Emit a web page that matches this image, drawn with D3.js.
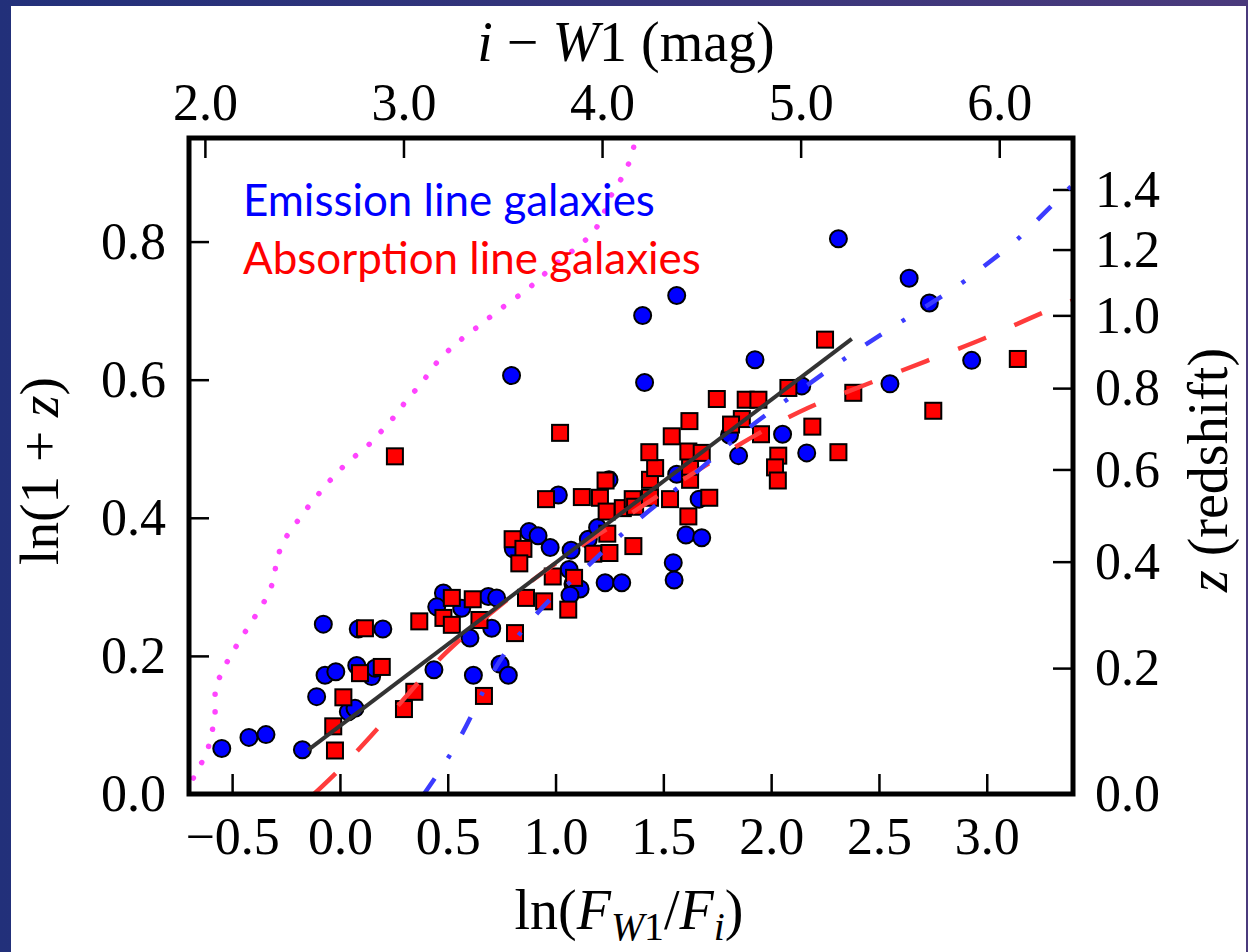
<!DOCTYPE html>
<html>
<head>
<meta charset="utf-8">
<script src="https://cdn.jsdelivr.net/npm/d3@7"></script>
<style>
  body { margin: 0; background: #3b3272; }
  svg { display: block; }
  .tick text { font-family: "Liberation Serif", serif; font-size: 52px; fill: #000; }
  .tick line { stroke: #000; stroke-width: 2.5; }
</style>
</head>
<body>
<div id="chart"></div>
<script>
// Tick values
var xTicks = [-0.5, 0.0, 0.5, 1.0, 1.5, 2.0, 2.5, 3.0];
var yTicks = [0.0, 0.2, 0.4, 0.6, 0.8];
var zTicks = [0.0, 0.2, 0.4, 0.6, 0.8, 1.0, 1.2, 1.4];
var magTicks = [2.0, 3.0, 4.0, 5.0, 6.0];
var magZero = 2.68; // i - W1 where ln(F_W1/F_i) = 0

// Emission line galaxies (blue circles): [ln(F_W1/F_i), ln(1+z)]
var emission = [
  [-0.548, 0.066], [-0.422, 0.082], [-0.343, 0.086], [-0.174, 0.064], [-0.077, 0.246],
  [-0.108, 0.141], [-0.069, 0.172], [-0.019, 0.177], [0.039, 0.119], [0.070, 0.124],
  [0.078, 0.186], [0.085, 0.239], [0.147, 0.170], [0.163, 0.182], [0.199, 0.239],
  [0.436, 0.180], [0.480, 0.291], [0.449, 0.271], [0.565, 0.269], [0.603, 0.226],
  [0.619, 0.172], [0.688, 0.286], [0.727, 0.284], [0.704, 0.240], [0.743, 0.188],
  [0.781, 0.172], [1.013, 0.433], [0.877, 0.380], [0.919, 0.374], [0.975, 0.357],
  [0.804, 0.355], [1.072, 0.353], [1.152, 0.369], [1.195, 0.386], [1.063, 0.325],
  [1.081, 0.304], [1.114, 0.297], [1.067, 0.288], [1.230, 0.306], [1.307, 0.306],
  [1.546, 0.335], [1.550, 0.310], [1.605, 0.375], [1.678, 0.371], [1.666, 0.427],
  [1.248, 0.455], [1.562, 0.463], [0.796, 0.606], [1.404, 0.693], [1.562, 0.722],
  [1.413, 0.596], [1.925, 0.629], [2.142, 0.591], [1.807, 0.520], [2.053, 0.521],
  [1.849, 0.490], [2.165, 0.494], [2.312, 0.804], [2.640, 0.747], [2.734, 0.711],
  [2.930, 0.628], [2.551, 0.594]
];

// Absorption line galaxies (red squares)
var absorption = [
  [-0.031, 0.098], [-0.023, 0.063], [0.016, 0.140], [0.093, 0.175], [0.116, 0.240],
  [0.194, 0.184], [0.297, 0.123], [0.345, 0.148], [0.368, 0.250], [0.480, 0.255],
  [0.519, 0.284], [0.519, 0.245], [0.616, 0.282], [0.647, 0.252], [0.668, 0.142],
  [0.812, 0.233], [0.801, 0.369], [0.851, 0.355], [0.832, 0.334], [0.863, 0.284],
  [0.947, 0.279], [1.059, 0.267], [0.987, 0.315], [1.086, 0.313], [1.175, 0.348],
  [1.250, 0.349], [1.240, 0.377], [1.361, 0.359], [0.956, 0.427], [1.122, 0.430],
  [1.206, 0.429], [1.232, 0.454], [1.237, 0.409], [1.312, 0.414], [1.358, 0.427],
  [1.369, 0.416], [1.438, 0.429], [1.531, 0.427], [1.713, 0.429], [1.616, 0.402],
  [1.438, 0.455], [1.462, 0.472], [1.624, 0.455], [1.624, 0.474], [1.435, 0.495],
  [1.616, 0.496], [1.678, 0.494], [1.539, 0.518], [1.021, 0.523], [1.621, 0.540],
  [1.748, 0.572], [1.882, 0.571], [1.941, 0.571], [1.864, 0.543], [1.814, 0.535],
  [1.953, 0.521], [2.080, 0.588], [2.250, 0.658], [2.381, 0.581], [2.191, 0.532],
  [2.312, 0.495], [2.033, 0.490], [2.018, 0.473], [2.031, 0.454], [3.144, 0.630],
  [2.752, 0.555], [0.255, 0.489]
];

// Best fit line (black)
var fitLine = [[-0.147, 0.064], [2.374, 0.659]];

// Absorption template track (red dashed)
var absTrack = [
  [-0.12, 0.0], [0.0, 0.036], [0.19, 0.100], [0.49, 0.204], [0.70, 0.262],
  [1.16, 0.368], [1.30, 0.396], [1.53, 0.443], [2.17, 0.559], [2.44, 0.593],
  [2.72, 0.627], [2.99, 0.660], [3.26, 0.697], [3.40, 0.715]
];

// Emission template track (blue dash-dot)
var emiTrack = [
  [0.39, 0.0], [0.51, 0.054], [0.61, 0.112], [0.72, 0.187], [0.84, 0.235],
  [0.98, 0.286], [1.09, 0.311], [1.24, 0.358], [1.44, 0.413], [1.61, 0.453],
  [1.86, 0.523], [2.02, 0.559], [2.30, 0.622], [2.41, 0.645], [2.58, 0.680],
  [2.87, 0.735], [2.98, 0.763], [3.13, 0.798], [3.24, 0.833], [3.39, 0.880],
  [3.42, 0.888]
];

// Magenta dotted track
var magTrack = [
  [-0.715, 0.0], [-0.667, 0.031], [-0.621, 0.058], [-0.595, 0.088], [-0.579, 0.118],
  [-0.579, 0.147], [-0.548, 0.176], [-0.502, 0.203], [-0.451, 0.229], [-0.398, 0.255],
  [-0.347, 0.281], [-0.309, 0.309], [-0.293, 0.338], [-0.259, 0.367], [-0.204, 0.392],
  [-0.147, 0.416], [-0.084, 0.440], [-0.023, 0.462], [0.050, 0.484], [0.124, 0.503],
  [0.191, 0.525], [0.256, 0.548], [0.314, 0.572], [0.379, 0.595], [0.436, 0.620],
  [0.503, 0.642], [0.577, 0.662], [0.653, 0.680], [0.730, 0.699], [0.809, 0.717],
  [0.885, 0.735], [0.959, 0.756], [1.033, 0.776], [1.106, 0.793], [1.180, 0.816],
  [1.225, 0.842], [1.265, 0.871], [1.314, 0.896], [1.353, 0.925], [1.37, 0.95]
];

var W = 1248, H = 952;
var margin = { top: 138, right: 175, bottom: 158, left: 189 };
var width = W - margin.left - margin.right;
var height = H - margin.top - margin.bottom;

var svg0 = d3.select('#chart').append('svg')
    .attr('width', W)
    .attr('height', H);

// Space-like backdrop and white slide panel
var grad = svg0.append('defs').append('linearGradient')
    .attr('id', 'bg').attr('x1', 0).attr('x2', 1).attr('y1', 0).attr('y2', 0);
grad.append('stop').attr('offset', '0%').attr('stop-color', '#22307a');
grad.append('stop').attr('offset', '100%').attr('stop-color', '#4a3a7c');
svg0.append('rect').attr('width', W).attr('height', H).attr('fill', 'url(#bg)');
svg0.append('rect').attr('x', 11).attr('y', 6).attr('width', 1235).attr('height', H - 6).attr('fill', '#fff');

svg0.append('clipPath').attr('id', 'plotclip')
  .append('rect').attr('width', width).attr('height', height);

var svg = svg0.append('g')
    .attr('transform', 'translate(' + margin.left + ',' + margin.top + ')');

var x = d3.scaleLinear().domain([-0.7, 3.4]).range([0, width]);
var y = d3.scaleLinear().domain([0, 0.95]).range([height, 0]);
var magK = 0.4 * Math.LN10;
var xMag = d3.scaleLinear()
    .domain([magZero + x.domain()[0] / magK, magZero + x.domain()[1] / magK])
    .range([0, width]);

var fmt = d3.format('.1f');

// Axes (ticks point inward)
svg.append('g')
    .attr('transform', 'translate(0,' + height + ')')
    .call(d3.axisBottom(x).tickValues(xTicks).tickSize(-20).tickPadding(23).tickFormat(fmt))
    .call(function (g) { g.select('.domain').remove(); });

svg.append('g')
    .call(d3.axisLeft(y).tickValues(yTicks).tickSize(-20).tickPadding(23).tickFormat(fmt))
    .call(function (g) { g.select('.domain').remove(); });

svg.append('g')
    .attr('transform', 'translate(' + width + ',0)')
    .call(d3.axisRight(y).tickValues(zTicks.map(Math.log1p)).tickSize(-20).tickPadding(22)
        .tickFormat(function (d) { return fmt(Math.expm1(d)); }))
    .call(function (g) { g.select('.domain').remove(); });

svg.append('g')
    .call(d3.axisTop(xMag).tickValues(magTicks).tickSize(-20).tickPadding(18).tickFormat(fmt))
    .call(function (g) { g.select('.domain').remove(); });

// Data layer
var plot = svg.append('g').attr('clip-path', 'url(#plotclip)');

plot.selectAll('.emi')
    .data(emission)
    .enter()
    .append('circle')
    .attr('class', 'emi')
    .attr('cx', function (d) { return x(d[0]); })
    .attr('cy', function (d) { return y(d[1]); })
    .attr('r', 8.5)
    .attr('fill', '#0000ff')
    .attr('stroke', '#000')
    .attr('stroke-width', 2);

var sq = 16;
plot.selectAll('.abs')
    .data(absorption)
    .enter()
    .append('rect')
    .attr('class', 'abs')
    .attr('x', function (d) { return x(d[0]) - sq / 2; })
    .attr('y', function (d) { return y(d[1]) - sq / 2; })
    .attr('width', sq)
    .attr('height', sq)
    .attr('fill', '#ff0000')
    .attr('stroke', '#000')
    .attr('stroke-width', 2);

function lineGen(curve) {
    return d3.line().x(function (d) { return x(d[0]); }).y(function (d) { return y(d[1]); }).curve(curve);
}

plot.append('path')
    .datum(magTrack)
    .attr('fill', 'none')
    .attr('stroke', '#ff44ff')
    .attr('stroke-width', 5.5)
    .attr('stroke-linecap', 'round')
    .attr('stroke-dasharray', '0.1 17.5')
    .attr('d', lineGen(d3.curveMonotoneY));

plot.append('path')
    .datum(absTrack)
    .attr('fill', 'none')
    .attr('stroke', '#ff3b3b')
    .attr('stroke-width', 4.5)
    .attr('stroke-dasharray', '30 31')
    .attr('d', lineGen(d3.curveMonotoneX));

plot.append('path')
    .datum(emiTrack)
    .attr('fill', 'none')
    .attr('stroke', '#3b3bff')
    .attr('stroke-width', 4.5)
    .attr('stroke-dasharray', '19 24 4 24')
    .attr('d', lineGen(d3.curveBasis));

plot.append('path')
    .datum(fitLine)
    .attr('fill', 'none')
    .attr('stroke', '#333')
    .attr('stroke-width', 4)
    .attr('d', lineGen(d3.curveLinear));

// Frame
svg.append('rect')
    .attr('width', width)
    .attr('height', height)
    .attr('fill', 'none')
    .attr('stroke', '#000')
    .attr('stroke-width', 5);

// Legend text
var legend = [
    { name: 'Emission line galaxies', color: '#0000ff', y: 216, w: 412 },
    { name: 'Absorption line galaxies', color: '#ff0000', y: 274, w: 458 }
];
legend.forEach(function (l) {
    var t = svg0.append('text')
        .text(l.name)
        .attr('x', 243)
        .attr('y', l.y)
        .attr('fill', l.color)
        .style('font-family', 'Lato, "Open Sans", sans-serif')
        .style('font-size', '40px');
    var len = t.node().getComputedTextLength();
    t.style('font-size', (40 * l.w / len) + 'px');
});

// Axis titles with math-style italics, sized towards the reference width
function mathLabel(parts, tx, ty, rot, w) {
    var t = svg0.append('text')
        .attr('transform', 'translate(' + tx + ',' + ty + ')' + (rot ? ' rotate(' + rot + ')' : ''))
        .attr('text-anchor', 'middle')
        .style('font-family', '"Liberation Serif", serif')
        .style('font-size', '52px')
        .attr('fill', '#000');
    var cur = 0; // baseline drop, in em of the main size
    parts.forEach(function (p) {
        var s = t.append('tspan').text(p.t);
        if (p.i) s.style('font-style', 'italic');
        if (p.sub) s.style('font-size', '0.71em');
        var want = p.sub ? 0.19 : 0;
        if (want !== cur) {
            s.attr('dy', ((want - cur) / (p.sub ? 0.71 : 1)) + 'em');
            cur = want;
        }
    });
    var len = t.node().getBBox().width;
    t.style('font-size', Math.min(56, 52 * w / len) + 'px');
    return t;
}

mathLabel([{ t: 'i', i: 1 }, { t: ' \u2212 ' }, { t: 'W', i: 1 }, { t: '1 (mag)' }], 626, 61, 0, 313);
mathLabel([{ t: 'ln(' }, { t: 'F', i: 1 }, { t: 'W', i: 1, sub: 1 }, { t: '1', sub: 1 },
           { t: '/' }, { t: 'F', i: 1 }, { t: 'i', i: 1, sub: 1 }, { t: ')' }], 629, 929, 0, 260);
mathLabel([{ t: 'ln(1 + ' }, { t: 'z', i: 1 }, { t: ')' }], 58, 471, -90, 188);
mathLabel([{ t: 'z', i: 1 }, { t: ' (redshift)' }], 1227, 470, -90, 246);
</script>
</body>
</html>
